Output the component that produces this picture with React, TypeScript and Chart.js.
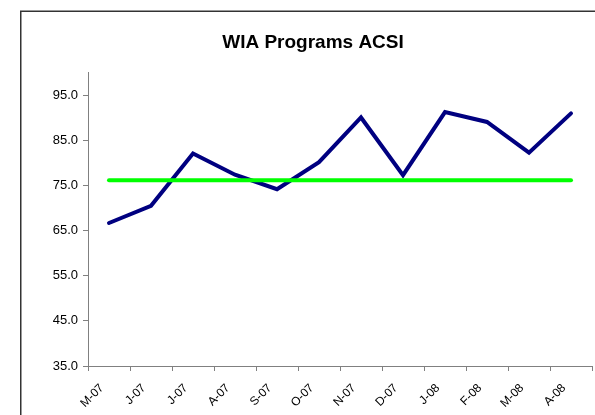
import React, { useEffect, useRef } from "react";
import { Chart, registerables } from "chart.js";

Chart.register(...registerables);

const categories = ["M-07", "J-07", "J-07", "A-07", "S-07", "O-07", "N-07", "D-07", "J-08", "F-08", "M-08", "A-08"];
const acsiValues = [66.7, 70.5, 82.1, 77.4, 74.2, 80.2, 90.1, 77.3, 91.3, 89.1, 82.3, 91.0];
const targetValues = [76.2, 76.2, 76.2, 76.2, 76.2, 76.2, 76.2, 76.2, 76.2, 76.2, 76.2, 76.2];
const yTickValues = [35, 45, 55, 65, 75, 85, 95];
const chartTitle = "WIA Programs ACSI";

const FONT = "Arial, 'Liberation Sans', Helvetica, sans-serif";

const framePlugin = {
  id: "frame",
  beforeDraw(chart: any) {
    const ctx = chart.ctx;
    ctx.save();
    ctx.fillStyle = "#ffffff";
    ctx.fillRect(0, 0, chart.width, chart.height);
    ctx.strokeStyle = "#333333";
    ctx.lineWidth = 1.5;
    ctx.strokeRect(20.75, 11.25, chart.width + 20, chart.height + 20);
    ctx.restore();
  },
};

export default function App() {
  const ref = useRef<HTMLCanvasElement>(null);

  useEffect(() => {
    if (!ref.current) return;
    const chart = new Chart(ref.current, {
      type: "line",
      data: {
        labels: categories,
        datasets: [
          {
            label: "ACSI",
            data: acsiValues,
            borderColor: "#000080",
            backgroundColor: "#000080",
            borderWidth: 4,
            pointRadius: 0,
            tension: 0,
            borderCapStyle: "round",
            borderJoinStyle: "miter",
            order: 1,
          },
          {
            label: "Target",
            data: targetValues,
            borderColor: "#00ff00",
            backgroundColor: "#00ff00",
            borderWidth: 4,
            pointRadius: 0,
            tension: 0,
            borderCapStyle: "round",
            order: 0,
          },
        ],
      },
      options: {
        animation: false,
        responsive: false,
        maintainAspectRatio: false,
        events: [],
        layout: { padding: { left: 34, right: 3, top: 0, bottom: 0 } },
        plugins: {
          legend: { display: false },
          tooltip: { enabled: false },
          title: {
            display: true,
            text: chartTitle,
            color: "#000000",
            font: { family: FONT, size: 19, weight: "bold", lineHeight: 1.2 },
            padding: { top: 31, bottom: 19 },
          },
        },
        scales: {
          x: {
            type: "category",
            offset: true,
            grid: {
              offset: true,
              drawOnChartArea: false,
              drawTicks: true,
              tickLength: 5,
              tickColor: "#808080",
              tickWidth: 1,
            },
            border: { display: true, color: "#808080", width: 1 },
            ticks: {
              color: "#000000",
              font: { family: FONT, size: 12 },
              minRotation: 45,
              maxRotation: 45,
              autoSkip: false,
              padding: 10,
              labelOffset: -7,
            },
            afterFit(scale: any) {
              scale.height = 49;
            },
          },
          y: {
            type: "linear",
            min: 35,
            max: 100,
            grid: {
              drawOnChartArea: false,
              drawTicks: true,
              tickLength: 5,
              tickColor: "#808080",
              tickWidth: 1,
            },
            border: { display: true, color: "#808080", width: 1 },
            ticks: {
              color: "#000000",
              font: { family: FONT, size: 13 },
              padding: 5,
              callback: (v: any) => Number(v).toFixed(1),
            },
            afterBuildTicks(scale: any) {
              scale.ticks = yTickValues.map((v) => ({ value: v }));
            },
            afterFit(scale: any) {
              scale.width = 54;
            },
          },
        },
      },
      plugins: [framePlugin],
    });
    return () => chart.destroy();
  }, []);

  return (
    <div style={{ position: "absolute", left: 0, top: 0, width: 595, height: 415, background: "#fff" }}>
      <canvas ref={ref} width={595} height={415} style={{ display: "block", width: 595, height: 415 }} />
    </div>
  );
}
